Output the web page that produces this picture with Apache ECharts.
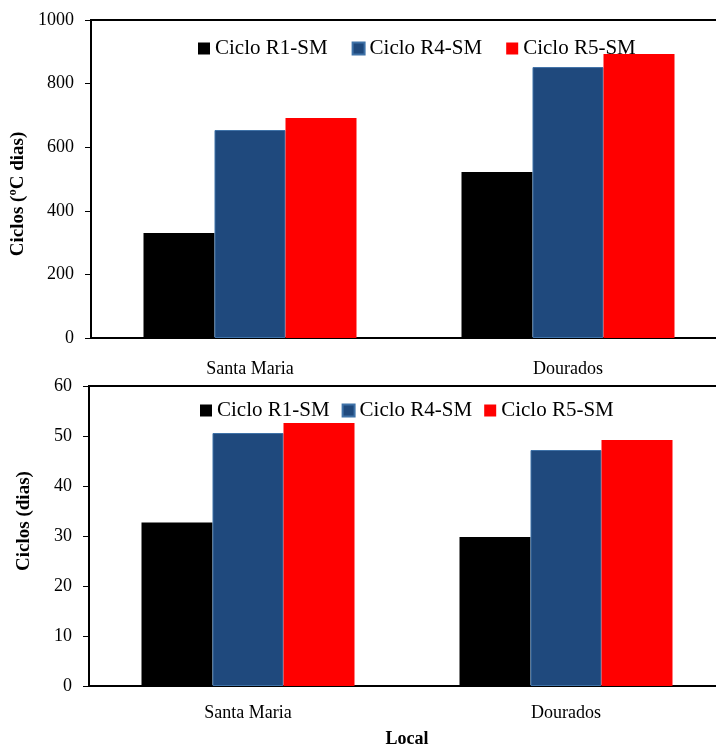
<!DOCTYPE html>
<html>
<head>
<meta charset="utf-8">
<script src="https://cdn.jsdelivr.net/npm/echarts@6/dist/echarts.min.js"></script>
<style>html,body{margin:0;padding:0;background:#fff}#c{width:716px;height:746px}</style>
</head>
<body>
<div id="c"></div>
<script>
const categories = ['Santa Maria', 'Dourados'];
const seriesNames = ['Ciclo R1-SM', 'Ciclo R4-SM', 'Ciclo R5-SM'];
const topR1 = [330, 522];
const topR4 = [654, 852];
const topR5 = [692, 893];
const botR1 = [32.7, 29.8];
const botR4 = [50.6, 47.2];
const botR5 = [52.6, 49.2];
const colors = ['#000000', '#1F497D', '#FF0000'];
const FONT = 'Liberation Serif';

const chart = echarts.init(document.getElementById('c'));
function xAx(gi, withName) {
  const a = {
    type: 'category', gridIndex: gi, data: categories,
    axisLine: { lineStyle: { color: '#000', width: 2 } },
    axisTick: { show: false },
    axisLabel: { color: '#000', fontFamily: FONT, fontSize: 18, margin: gi === 0 ? 22 : 18 }
  };
  if (withName) {
    a.name = 'Local'; a.nameLocation = 'middle'; a.nameGap = 44;
    a.nameTextStyle = { color: '#000', fontFamily: FONT, fontSize: 18, fontWeight: 'bold' };
  }
  return a;
}
function yAx(gi, max, interval, name, gap, pad) {
  return {
    type: 'value', gridIndex: gi, min: 0, max: max, interval: interval,
    name: name, nameLocation: 'middle', nameGap: gap,
    nameTextStyle: { color: '#000', fontFamily: FONT, fontSize: 19, fontWeight: 'bold', padding: pad },
    axisLine: { show: true, lineStyle: { color: '#000', width: 2 } },
    axisTick: { show: true, inside: false, length: 6, lineStyle: { color: '#000', width: 1 } },
    axisLabel: { color: '#000', fontFamily: FONT, fontSize: 18, margin: 17, formatter: function (v) { return String(v); } },
    splitLine: { show: false }
  };
}
function bar(name, data, idx, gi) {
  return {
    name: name, type: 'bar', xAxisIndex: gi, yAxisIndex: gi, data: data,
    barWidth: 71, barGap: '0%',
    itemStyle: { color: colors[idx], borderColor: idx === 1 ? '#3f72a8' : colors[idx], borderWidth: idx === 1 ? 1 : 0 }
  };
}
const legendBase = {
  itemWidth: 12, itemHeight: 12, icon: 'rect',
  textStyle: { color: '#000', fontFamily: FONT, fontSize: 21 },
  data: seriesNames
};
chart.setOption({
  animation: false,
  backgroundColor: '#fff',
  grid: [
    { left: 91, top: 20, height: 318, width: 636, outerBoundsMode: 'none', containLabel: false, show: true, borderColor: '#000', borderWidth: 2 },
    { left: 89, top: 386, height: 300, width: 636, outerBoundsMode: 'none', containLabel: false, show: true, borderColor: '#000', borderWidth: 2 }
  ],
  legend: [
    Object.assign({}, legendBase, { left: 193, top: 33, itemGap: 24 }),
    Object.assign({}, legendBase, { left: 195, top: 395, itemGap: 12 })
  ],
  xAxis: [xAx(0, false), xAx(1, true)],
  yAxis: [yAx(0, 1000, 200, 'Ciclos (ºC dias)', 57, [0, 30, 0, 0]), yAx(1, 60, 10, 'Ciclos (dias)', 55, [0, 0, 0, 30])],
  series: [
    bar(seriesNames[0], topR1, 0, 0),
    bar(seriesNames[1], topR4, 1, 0),
    bar(seriesNames[2], topR5, 2, 0),
    bar(seriesNames[0], botR1, 0, 1),
    bar(seriesNames[1], botR4, 1, 1),
    bar(seriesNames[2], botR5, 2, 1)
  ]
});
</script>
</body>
</html>
